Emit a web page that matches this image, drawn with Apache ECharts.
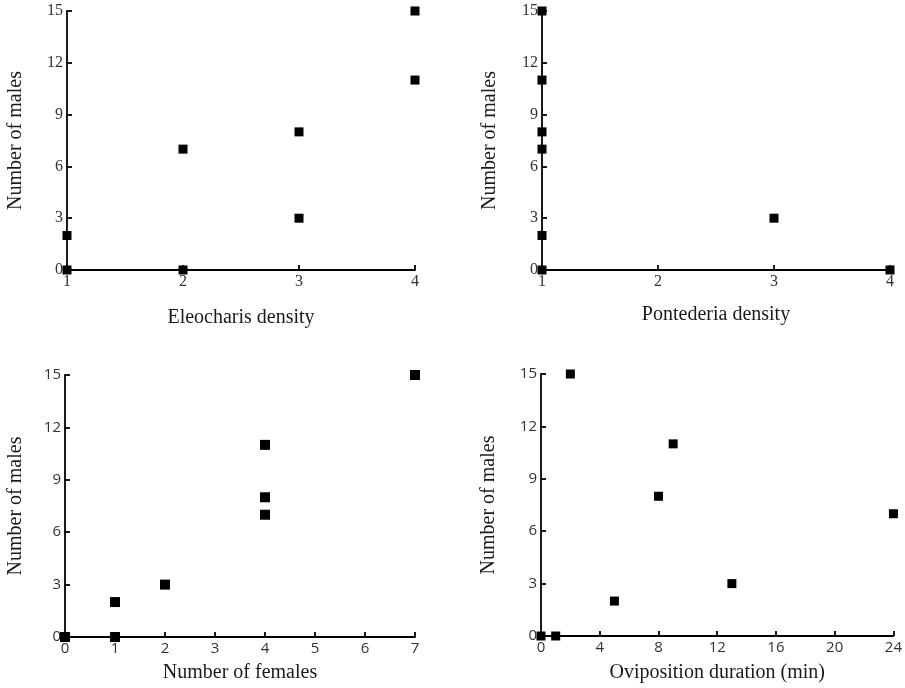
<!DOCTYPE html>
<html>
<head>
<meta charset="utf-8">
<script src="https://cdn.jsdelivr.net/npm/echarts@6/dist/echarts.min.js"></script>
<style>
  html, body { margin: 0; padding: 0; background: #fff; }
  #chart { width: 905px; height: 688px; }
</style>
</head>
<body>
<div id="chart"></div>
<script>
// males counted per trial, paired with each predictor
const eleocharisDensity = [1, 1, 2, 2, 3, 3, 4, 4]
const eleocharisMales = [0, 2, 0, 7, 8, 3, 15, 11]

const pontederiaDensity = [1, 1, 1, 1, 1, 1, 3, 4]
const pontederiaMales = [15, 11, 8, 7, 2, 0, 3, 0]

const females = [0, 1, 1, 2, 4, 4, 4, 7]
const femalesMales = [0, 2, 0, 3, 11, 8, 7, 15]

const ovipositionMin = [0, 1, 2, 5, 8, 9, 13, 24]
const ovipositionMales = [0, 0, 15, 2, 8, 11, 3, 7]

const maleTicks = { min: 0, max: 15, interval: 3 }

const serif = "'Liberation Serif', 'DejaVu Serif', serif"
const sans = "'Open Sans', 'Noto Sans', sans-serif"

const pair = (xs, ys) => xs.map((x, i) => [x, ys[i]])

const grids = [
  { left: 67, top: 11, width: 348, height: 259 },
  { left: 542, top: 11, width: 348, height: 259 },
  { left: 65, top: 375, width: 350, height: 262 },
  { left: 541, top: 374, width: 354, height: 262 },
]

function labelStyle(font) {
  return font === serif
    ? { fontFamily: serif, fontSize: 16, color: '#333' }
    : { fontFamily: sans, fontSize: 15, color: '#333' }
}

function xAxis(i, name, min, max, interval, font, gap) {
  return {
    type: 'value', gridIndex: i, min, max, interval,
    name, nameLocation: 'middle', nameGap: gap,
    nameTextStyle: { fontFamily: serif, fontSize: 20, color: '#1a1a1a' },
    axisLine: { show: true, lineStyle: { color: '#000', width: 1.8 } },
    axisTick: { show: true, inside: true, length: 5, lineStyle: { color: '#000', width: 1.8 } },
    axisLabel: { ...labelStyle(font), margin: 4 },
    splitLine: { show: false },
  }
}

function yAxis(i, font, gap) {
  return {
    type: 'value', gridIndex: i, ...maleTicks,
    name: 'Number of males', nameLocation: 'middle', nameGap: gap,
    nameTextStyle: { fontFamily: serif, fontSize: 20, color: '#1a1a1a' },
    axisLine: { show: true, lineStyle: { color: '#000', width: 1.8 } },
    axisTick: { show: true, inside: true, length: 5, lineStyle: { color: '#000', width: 1.8 } },
    axisLabel: { ...labelStyle(font), margin: 4 },
    splitLine: { show: false },
  }
}

function scatter(i, data, size) {
  return {
    type: 'scatter', xAxisIndex: i, yAxisIndex: i,
    symbol: 'rect', symbolSize: size, clip: false,
    itemStyle: { color: '#000', opacity: 1 },
    data,
  }
}

const chart = echarts.init(document.getElementById('chart'))
chart.setOption({
  backgroundColor: '#fff',
  animation: false,
  grid: grids,
  xAxis: [
    xAxis(0, 'Eleocharis density', 1, 4, 1, serif, 38),
    xAxis(1, 'Pontederia density', 1, 4, 1, serif, 35),
    xAxis(2, 'Number of females', 0, 7, 1, sans, 26),
    xAxis(3, 'Oviposition duration (min)', 0, 24, 4, sans, 27),
  ],
  yAxis: [
    yAxis(0, serif, 41),
    yAxis(1, serif, 42),
    yAxis(2, sans, 39),
    yAxis(3, sans, 42),
  ],
  series: [
    scatter(0, pair(eleocharisDensity, eleocharisMales), 9),
    scatter(1, pair(pontederiaDensity, pontederiaMales), 9),
    scatter(2, pair(females, femalesMales), 10),
    scatter(3, pair(ovipositionMin, ovipositionMales), 9),
  ],
})
</script>
</body>
</html>
